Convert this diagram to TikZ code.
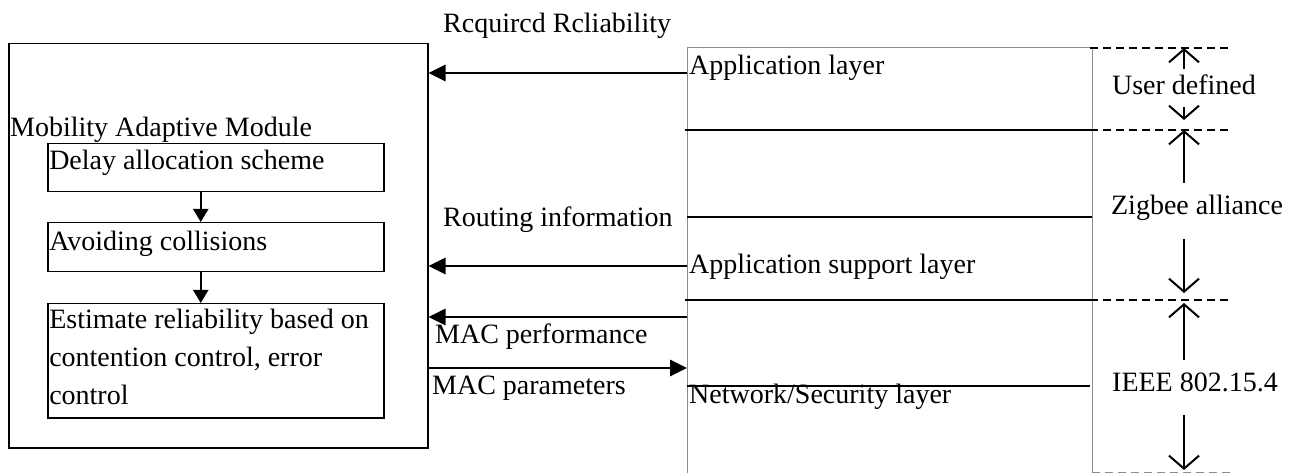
\documentclass[tikz,border=0pt]{standalone}
\usepackage{fontspec}
\setmainfont{Liberation Serif}
\usetikzlibrary{arrows.meta,positioning}

\begin{document}
\begin{tikzpicture}[
  x=1pt, y=-1pt,
  every node/.style={font=\fontsize{28}{38}\selectfont},
  frame/.style={draw, line width=1.5pt, anchor=north west, inner sep=0pt},
  block/.style={draw, line width=1.5pt, anchor=north west, inner xsep=1.5pt, inner ysep=6pt, text width=333pt, align=flush left},
  lbl/.style={anchor=base west, inner sep=0pt},
  side/.style={anchor=base, inner sep=2pt, font=\fontsize{28}{34}\selectfont},
  flow/.style={-{Triangle[length=17pt,width=16pt]}, line width=2.7pt},
  stepflow/.style={-{Triangle[length=13pt,width=15pt]}, line width=2pt},
  layerline/.style={line width=2pt},
  thin grey/.style={draw=black!45, line width=1pt},
  span/.style={-{Straight Barb[length=13pt,width=30pt]}, line width=2pt},
  bound/.style={dash pattern=on 8pt off 5pt, line width=2pt}
]
  \useasboundingbox (0,0) rectangle (1294,473);

  % module with its three steps
  \node[frame, minimum width=419pt, minimum height=404pt] (mam) at (8,43) {};
  \node[lbl] (mamtitle) at (10,137) {Mobility Adaptive Module};
  \node[block, text height=20pt, text depth=16pt] (delay) at (47,143) {Delay allocation scheme};
  \node[block, text height=22pt, text depth=15pt] (avoid) at (47,222) {Avoiding collisions};
  \node[block, text height=19pt, text depth=83pt] (estimate) at (47,303) {Estimate reliability based on\\contention control, error\\control};
  \draw[stepflow] ([xshift=-15pt]delay.south) -- ([xshift=-15pt]avoid.north);
  \draw[stepflow] ([xshift=-15pt]avoid.south) -- ([xshift=-15pt]estimate.north);

  % protocol stack
  \draw[thin grey] (687,473) -- (687,48) -- (1092,48) -- (1092,473);
  \draw[layerline] (685,130) -- (1092,130);
  \draw[layerline] (687,217) -- (1092,217);
  \draw[layerline] (685,300) -- (1092,300);
  \draw[layerline] (687,386) -- (1090,386);
  \node[lbl] (app) at (689,75) {Application layer};
  \node[lbl] (aps) at (689,273) {Application support layer};
  \node[lbl] (nwk) at (689,403) {Network/Security layer};

  % exchanges between stack and module
  \coordinate (reqsrc) at (687,73);
  \coordinate (routesrc) at (687,266);
  \coordinate (perfsrc) at (687,317);
  \coordinate (paramdst) at (687,368);
  \draw[flow] (reqsrc) -- (reqsrc -| mam.east);
  \draw[flow] (routesrc) -- (routesrc -| mam.east);
  \draw[flow] (perfsrc) -- (perfsrc -| mam.east);
  \draw[flow] (paramdst -| mam.east) -- (paramdst);
  \node[lbl] (req) at (443,33) {Rcquircd Rcliability};
  \node[lbl] (route) at (443,227) {Routing information};
  \node[lbl] (perf) at (435,343) {MAC performance};
  \node[lbl] (param) at (432,394) {MAC parameters};

  % who defines which layers
  \draw[bound] (1090,48) -- (1232,48);
  \draw[bound] (1090,130) -- (1232,130);
  \draw[bound] (1090,300) -- (1232,300);
  \draw[bound, draw=black!45, line width=1pt] (1092,472) -- (1232,472);
  \coordinate (b0) at (1184,48);
  \coordinate (b1) at (1184,130);
  \coordinate (b2) at (1184,300);
  \coordinate (b3) at (1184,472);
  \node[side] (user) at (1184,95) {\strut User defined};
  \node[side] (zigbee) at (1197,215) {\strut Zigbee alliance};
  \node[side] (ieee) at (1195,391) {\strut IEEE 802.15.4};
  \draw[span] (user.north -| b0) -- (b0);
  \draw[span] (user.south -| b0) -- ([yshift=10pt]b1);
  \draw[span, shorten <=6pt] (zigbee.north -| b1) -- (b1);
  \draw[span, shorten <=12pt] (zigbee.south -| b1) -- ([yshift=7pt]b2);
  \draw[span, shorten <=5pt] (ieee.north -| b2) -- ([yshift=-3pt]b2);
  \draw[span, shorten <=12pt] (ieee.south -| b2) -- ([yshift=2pt]b3);
\end{tikzpicture}
\end{document}
